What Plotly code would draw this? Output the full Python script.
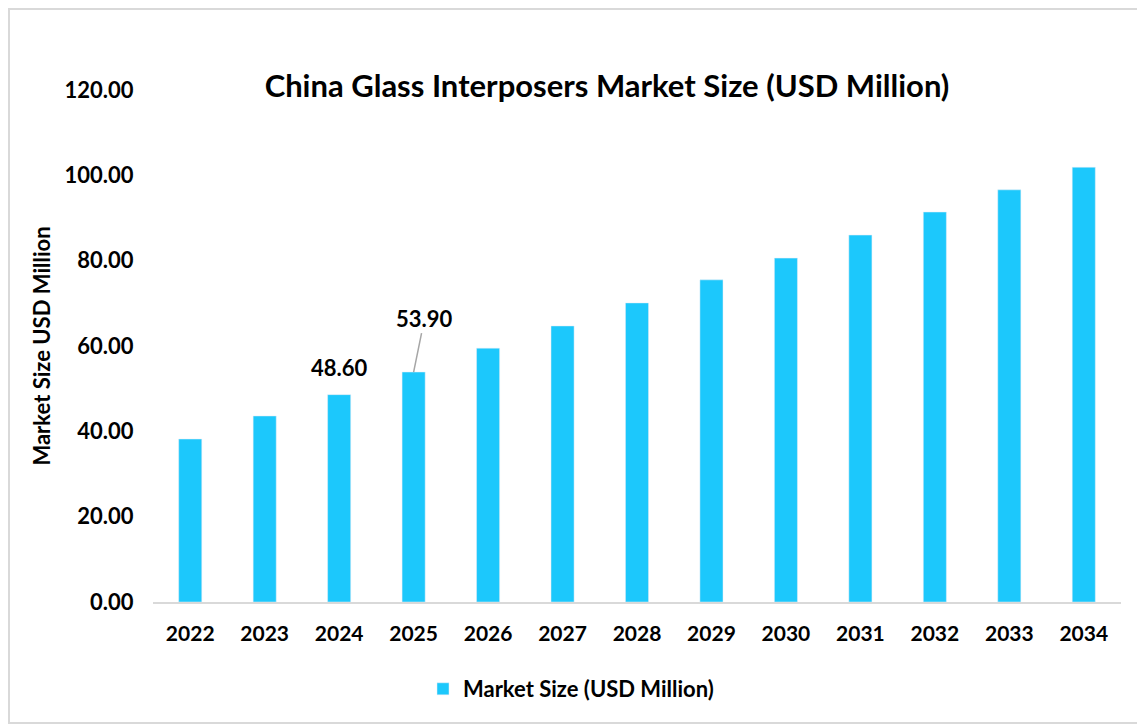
import plotly.graph_objects as go

years = ["2022", "2023", "2024", "2025", "2026", "2027", "2028",
         "2029", "2030", "2031", "2032", "2033", "2034"]
market_size = [38.2, 43.6, 48.6, 53.9, 59.5, 64.7, 70.1,
               75.5, 80.6, 86.0, 91.4, 96.6, 101.9]

# only these two bars carry a value label in the original
labelled = {"2024": 48.6, "2025": 53.9}

# the page body adds an 8px margin, so the figure is 8px smaller
W, H = 1137, 718
ML, MR, MT, MB = 145, 24, 82, 124
FONT = "Lato"

fig = go.Figure()
fig.add_trace(go.Bar(
    x=years, y=market_size,
    name="Market Size (USD Million)",
    marker_color="#1CC8FC",
    width=0.31,
))

# numeric-looking categories: annotations need the category index
fig.add_annotation(
    x=years.index("2024"), y=labelled["2024"], text="<b>48.60</b>",
    showarrow=False, yanchor="middle", yshift=27,
    font=dict(family=FONT, size=22, color="black"),
)
fig.add_annotation(
    x=years.index("2025"), y=labelled["2025"], text="<b>53.90</b>",
    showarrow=True, arrowhead=0, arrowwidth=1.5, arrowcolor="#a6a6a6",
    ax=11, ay=-54, standoff=0,
    font=dict(family=FONT, size=22, color="black"),
)

pw = W - ML - MR
ph = H - MT - MB
# frame round the whole picture
fig.add_shape(
    type="rect", xref="paper", yref="paper",
    x0=-(ML - 1) / pw, x1=1 + (MR - 2) / pw,
    y0=-(MB - 3) / ph, y1=1 + (MT - 1) / ph,
    line=dict(color="#d9d9d9", width=2),
)

fig.update_layout(
    width=W, height=H,
    margin=dict(l=ML, r=MR, t=MT, b=MB),
    paper_bgcolor="white", plot_bgcolor="white",
    font=dict(family=FONT, size=22, color="black"),
    title=dict(
        text="<b>China Glass Interposers Market Size (USD Million)</b>",
        x=(599 - ML) / pw, xref="paper", xanchor="center",
        y=1 - 78 / H, yanchor="middle",
        font=dict(family=FONT, size=31, color="black"),
    ),
    showlegend=True,
    legend=dict(
        orientation="h", x=(563 - ML) / pw, xanchor="center",
        y=-(681 - MT - ph) / ph, yanchor="middle",
        font=dict(family=FONT, size=22, color="black", weight="bold"),
    ),
    bargap=0.69,
)

fig.update_xaxes(
    type="category",
    showgrid=False, showline=True, linecolor="#d9d9d9", linewidth=2,
    ticks="outside", ticklen=12, tickcolor="rgba(0,0,0,0)",
    tickfont=dict(family=FONT, size=21, weight="bold"),
)
fig.update_yaxes(
    range=[0, 120], dtick=20, tickformat=".2f",
    showgrid=False, showline=False, zeroline=False,
    ticks="outside", ticklen=14, tickcolor="rgba(0,0,0,0)",
    tickfont=dict(family=FONT, size=22, weight="bold"),
    title=dict(text="<b>Market Size USD Million</b>", standoff=7,
               font=dict(family=FONT, size=22)),
)

fig.write_html("out.html")
